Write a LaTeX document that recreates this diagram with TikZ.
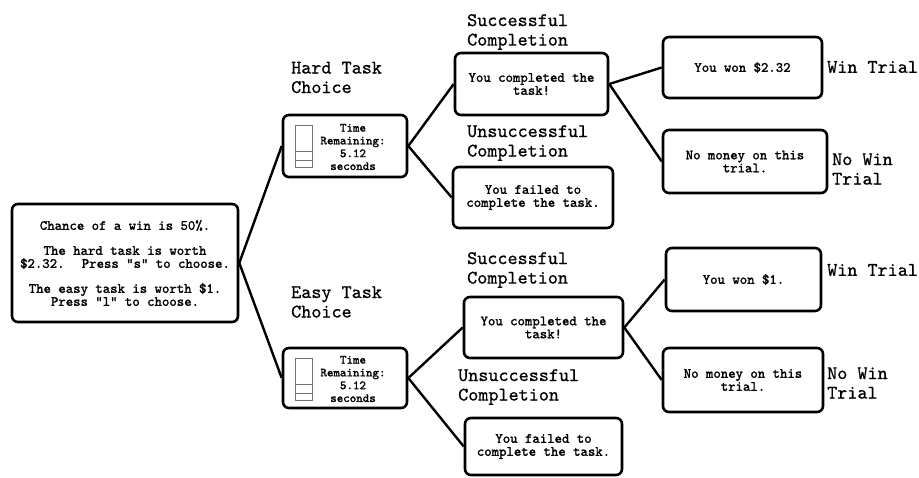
\documentclass[tikz,border=0pt]{standalone}
\usepackage{fontspec}
\newfontfamily\boxfont{lmmono10-regular.otf}[FakeBold=1.6]
\newfontfamily\tagfont{lmmono10-regular.otf}[FakeBold=0.7]
\usetikzlibrary{positioning}

\begin{document}
\begin{tikzpicture}[
        x=1pt,y=-1pt,
        box/.style={draw,line width=2.6pt,rounded corners=6pt,align=center,inner sep=0pt,
                    font=\boxfont\fontsize{14.1}{13}\selectfont},
        tag/.style={align=left,anchor=west,inner sep=0pt,font=\tagfont\fontsize{19.2}{19.5}\selectfont},
        timer/.style={align=center,inner sep=0pt,font=\boxfont\fontsize{12.4}{12.8}\selectfont},
        link/.style={line width=2.4pt},
        ]
        \useasboundingbox (0,0) rectangle (919,478);

        % choice screen
        \node[box,minimum width=226pt,minimum height=118pt] (start) at (125,263)
              {Chance of a win is 50\%.\\[12pt]
               The hard task is worth\\ \$2.32.~ Press \symbol{34}s\symbol{34} to choose.\\[12pt]
               The easy task is worth \$1.\\ Press \symbol{34}l\symbol{34} to choose.};

        % task screens with timer
        \node[box,minimum width=124pt,minimum height=62pt] (hard) at (345,146) {};
        \node[timer] (hardtxt) at (353,147) {Time\\Remaining:\\ 5.12\\seconds};
        \node[tag] (hardtag) at (291,77.5) {Hard Task\\Choice};

        \node[box,minimum width=124pt,minimum height=60pt] (easy) at (345,378) {};
        \node[timer] (easytxt) at (353,379) {Time\\Remaining:\\ 5.12\\seconds};
        \node[tag] (easytag) at (291,302) {Easy Task\\Choice};

        \foreach \t in {hard,easy} {
          \draw[black!55,line width=0.9pt] ([xshift=14pt,yshift=-12pt]\t.north west) rectangle ([xshift=31pt,yshift=-54pt]\t.north west);
          \draw[black!55,line width=0.9pt] ([xshift=14pt,yshift=-38pt]\t.north west) -- ([xshift=31pt,yshift=-38pt]\t.north west);
          \draw[black!55,line width=0.9pt] ([xshift=14pt,yshift=-47pt]\t.north west) -- ([xshift=31pt,yshift=-47pt]\t.north west);
        }

        % outcome of the hard task
        \node[box,minimum width=153pt,minimum height=62pt] (hardok) at (531.5,84) {You completed the\\task!};
        \node[tag] (hardoktag) at (467,32) {Successful\\Completion};
        \node[box,minimum width=160pt,minimum height=61pt] (hardfail) at (533,197.5) {You failed to\\complete the task.};
        \node[tag] (hardfailtag) at (467,143) {Unsuccessful\\Completion};

        % outcome of the easy task
        \node[box,minimum width=159pt,minimum height=61pt] (easyok) at (543.5,327.5) {You completed the\\task!};
        \node[tag] (easyoktag) at (467,270) {Successful\\Completion};
        \node[box,minimum width=157pt,minimum height=57pt] (easyfail) at (543.5,446.5) {You failed to\\complete the task.};
        \node[tag] (easyfailtag) at (458,387) {Unsuccessful\\Completion};

        % feedback
        \node[box,minimum width=159pt,minimum height=61pt] (hardwin) at (742.5,67.5) {You won \$2.32};
        \node[tag] (hardwintag) at (827,67) {Win Trial};
        \node[box,minimum width=164pt,minimum height=63pt] (hardnowin) at (745,161.5) {No money on this\\trial.};
        \node[tag] (hardnowintag) at (832,169) {No Win\\Trial};

        \node[box,minimum width=155pt,minimum height=63pt] (easywin) at (743.5,279.5) {You won \$1.};
        \node[tag] (easywintag) at (827,270) {Win Trial};
        \node[box,minimum width=160pt,minimum height=64pt] (easynowin) at (743,380) {No money on this\\trial.};
        \node[tag] (easynowintag) at (827,383) {No Win\\Trial};

        \draw[link] (start.east) -- (hard.west);
        \draw[link] (start.east) -- (easy.west);
        \draw[link] (hard.east) -- (hardok.west);
        \draw[link] (hard.east) -- (hardfail.west);
        \draw[link] (easy.east) -- (easyok.west);
        \draw[link] (easy.east) -- (easyfail.west);
        \draw[link] (hardok.east) -- (hardwin.west);
        \draw[link] (hardok.east) -- (hardnowin.west);
        \draw[link] (easyok.east) -- (easywin.west);
        \draw[link] (easyok.east) -- (easynowin.west);
      \end{tikzpicture}
\end{document}
